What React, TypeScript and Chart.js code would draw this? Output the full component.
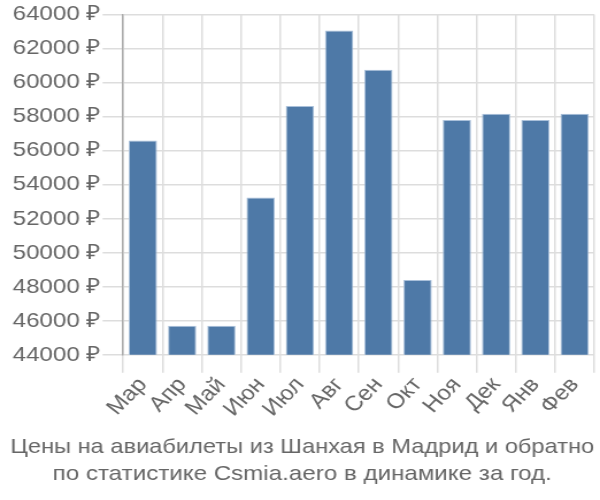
import React, { useEffect, useRef } from "react";
import { Chart, registerables } from "chart.js";

Chart.register(...registerables);

const categories = ["Мар", "Апр", "Май", "Июн", "Июл", "Авг", "Сен", "Окт", "Ноя", "Дек", "Янв", "Фев"];
const prices = [56600, 45700, 45700, 53250, 58620, 63070, 60760, 48390, 57800, 58170, 57800, 58170];
const titleLines = [
  "Цены на авиабилеты из Шанхая в Мадрид и обратно",
  "по статистике Csmia.aero в динамике за год.",
];
const currency = "₽";

const LOGICAL_W = 522;

export default function App() {
  const ref = useRef<HTMLCanvasElement | null>(null);

  useEffect(() => {
    if (!ref.current) return;
    const font = "'Liberation Sans', Arial, sans-serif";
    const chart = new Chart(ref.current, {
      type: "bar",
      data: {
        labels: categories,
        datasets: [
          {
            data: prices,
            backgroundColor: "#4e79a7",
            borderColor: "#a9c0da",
            borderWidth: 1,
          },
        ],
      },
      options: {
        responsive: false,
        animation: false,
        devicePixelRatio: 1,
        layout: { padding: { top: 4, right: 5, left: 9, bottom: 0 } },
        plugins: {
          legend: { display: false },
          tooltip: { enabled: false },
          title: {
            display: true,
            position: "bottom",
            text: titleLines,
            color: "#666",
            font: { family: font, size: 21, weight: "normal", lineHeight: 1.25 },
            padding: { top: 13, bottom: 13 },
          },
        },
        scales: {
          x: {
            grid: { color: "#dddddd", lineWidth: 1.5, tickLength: 18, offset: true },
            border: { color: "#dddddd" },
            ticks: {
              color: "#666",
              font: { family: font, size: 21 },
              maxRotation: 49,
              minRotation: 49,
              autoSkip: false,
              padding: 0,
            },
          },
          y: {
            min: 44000,
            max: 64000,
            grid: { color: "#dddddd", lineWidth: 1.5, tickLength: 18 },
            border: { color: "#aaaaaa", width: 1.5 },
            ticks: {
              stepSize: 2000,
              color: "#666",
              font: { family: font, size: 21 },
              padding: 2,
              callback: (v: any) => `${v} ${currency}`,
            },
          },
        },
      },
    });
    return () => chart.destroy();
  }, []);

  return (
    <div style={{ position: "fixed", left: 0, top: 0, width: 600, height: 500, background: "#fff" }}>
      <canvas
        ref={ref}
        width={LOGICAL_W}
        height={500}
        style={{ display: "block", width: "600px", height: "500px" }}
      />
    </div>
  );
}
